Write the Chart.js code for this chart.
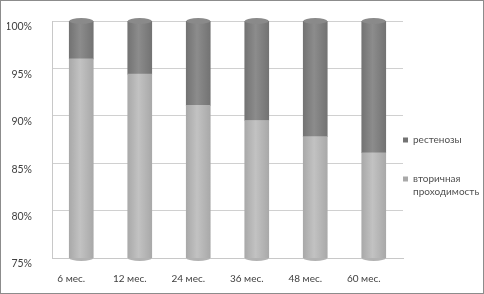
<!DOCTYPE html>
<html>
<head>
<meta charset="utf-8">
<script src="https://cdn.jsdelivr.net/npm/chart.js@4.4.1/dist/chart.umd.min.js"></script>
<style>
  body { margin: 0; background: #fff; }
  #wrap { width: 482px; height: 292px; border: 1px solid #8c8c8c; }
</style>
</head>
<body>
<div id="wrap"><canvas id="restenosisChart" width="482" height="292"></canvas></div>
<script>
// Data
const periods = ["6 мес.", "12 мес.", "24 мес.", "36 мес.", "48 мес.", "60 мес."];
const patency = [96.0, 94.4, 91.1, 89.5, 87.8, 86.1];      // вторичная проходимость, %
const restenosis = [4.0, 5.6, 8.9, 10.5, 12.2, 13.9];     // рестенозы, %
const yTicks = [75, 80, 85, 90, 95, 100];

const BAR_W = 24;
const FONT = "Lato, 'Open Sans', sans-serif";

// Horizontal gradient so the bars look like cylinders
function cylinderFill(edge, mid, plain) {
    return function(context) {
        const chart = context.chart;
        const xScale = chart.scales.x;
        if (!xScale || context.dataIndex === undefined) return plain;
        const cx = xScale.getPixelForValue(context.dataIndex);
        if (!isFinite(cx)) return plain;
        const g = chart.ctx.createLinearGradient(cx - BAR_W / 2, 0, cx + BAR_W / 2, 0);
        g.addColorStop(0, edge);
        g.addColorStop(0.45, mid);
        g.addColorStop(1, edge);
        return g;
    };
}

// Elliptic caps on top and bottom of each cylinder
const cylinderCaps = {
    id: "cylinderCaps",
    afterDatasetsDraw(chart) {
        const ctx = chart.ctx;
        const top = chart.getDatasetMeta(1).data;
        const bottom = chart.getDatasetMeta(0).data;
        const area = chart.chartArea;
        ctx.save();
        bottom.forEach(function(bar) {
            ctx.beginPath();
            ctx.ellipse(bar.x, area.bottom, bar.width / 2, 3, 0, 0, Math.PI);
            ctx.fillStyle = "#b2b2b2";
            ctx.fill();
        });
        top.forEach(function(bar) {
            ctx.beginPath();
            ctx.ellipse(bar.x, bar.y, bar.width / 2, 3, 0, 0, Math.PI * 2);
            ctx.fillStyle = "#8a8a8a";
            ctx.fill();
        });
        ctx.restore();
    }
};

const ctx = document.getElementById("restenosisChart").getContext("2d");
const chart = new Chart(ctx, {
    type: "bar",
    data: {
        labels: periods,
        datasets: [
            {
                label: "вторичная проходимость",
                data: patency,
                backgroundColor: cylinderFill("#a9a9a9", "#c2c2c2", "#b8b8b8"),
                borderWidth: 0,
                barThickness: BAR_W
            },
            {
                label: "рестенозы",
                data: restenosis,
                backgroundColor: cylinderFill("#737373", "#8c8c8c", "#7f7f7f"),
                borderWidth: 0,
                barThickness: BAR_W
            }
        ]
    },
    options: {
        responsive: false,
        animation: false,
        layout: { padding: { left: 6, top: 20, bottom: 5, right: 0 } },
        scales: {
            x: {
                stacked: true,
                grid: { display: false, drawTicks: false },
                border: { display: true, color: "#c8c8c8" },
                ticks: {
                    color: "#404040",
                    font: { family: FONT, size: 10 },
                    padding: 15,
                    labelOffset: -10
                },
                afterFit: function(scale) {
                    scale.height = 30;
                    scale.paddingLeft = 0;
                    scale.paddingRight = 0;
                }
            },
            y: {
                stacked: true,
                min: 75,
                max: 100,
                afterBuildTicks: function(scale) {
                    scale.ticks = yTicks.map(function(v) { return { value: v }; });
                },
                grid: { color: "#d0d0d0", drawTicks: false },
                border: { display: true, color: "#c8c8c8" },
                ticks: {
                    color: "#404040",
                    font: { family: FONT, size: 10.5 },
                    padding: 20,
                    labelOffset: 6,
                    callback: function(v) { return v + "%"; }
                },
                afterFit: function(scale) {
                    scale.width = 45;
                    scale.paddingTop = 0;
                    scale.paddingBottom = 0;
                }
            }
        },
        plugins: {
            legend: {
                position: "right",
                align: "start",
                reverse: true,
                maxWidth: 80,
                title: {
                    display: true,
                    text: " ",
                    font: { size: 10 },
                    padding: { top: 100, bottom: 2 }
                },
                labels: {
                    color: "#505050",
                    font: { family: FONT, size: 10, lineHeight: 1.3 },
                    boxWidth: 5,
                    boxHeight: 5,
                    padding: 0,
                    generateLabels: function(chart) {
                        const items = Chart.defaults.plugins.legend.labels.generateLabels(chart);
                        items.forEach(function(item) {
                            if (item.text === "вторичная проходимость") {
                                item.text = ["вторичная", "проходимость"];
                            } else {
                                item.text = [item.text, "", ""];
                            }
                        });
                        return items;
                    }
                }
            },
            tooltip: { enabled: false }
        }
    },
    plugins: [cylinderCaps]
});
</script>
</body>
</html>
